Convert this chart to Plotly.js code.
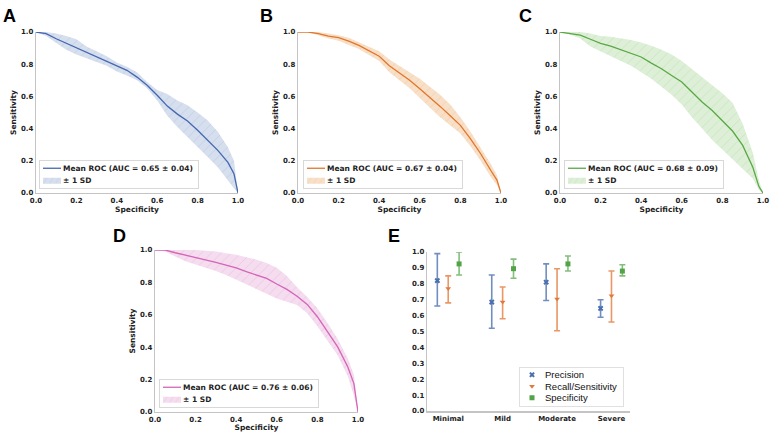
<!DOCTYPE html>
<html>
<head>
<meta charset="utf-8">
<script src="https://cdn.plot.ly/plotly-3.0.1.min.js"></script>
<style>html,body{margin:0;padding:0;background:#fff;}#chart{width:771px;height:432px;}</style>
</head>
<body>
<div id="chart"></div>
<script>
// ---------- DATA ----------
const specificity = [0,0.05,0.1,0.15,0.2,0.25,0.3,0.35,0.4,0.45,0.5,0.55,0.6,0.65,0.7,0.75,0.8,0.85,0.9,0.95,0.98,1.0];

const meanA  = [1.0,0.99,0.958,0.93,0.90,0.876,0.849,0.82,0.79,0.762,0.72,0.669,0.607,0.54,0.49,0.447,0.39,0.327,0.265,0.19,0.12,0.0];
const upperA = [1.0,1.0,0.99,0.975,0.955,0.91,0.88,0.85,0.81,0.785,0.75,0.69,0.64,0.615,0.575,0.545,0.50,0.45,0.38,0.285,0.2,0.03];
const lowerA = [1.0,0.975,0.93,0.89,0.86,0.84,0.815,0.79,0.755,0.73,0.70,0.65,0.575,0.48,0.41,0.35,0.285,0.224,0.16,0.08,0.03,0.0];

const meanB  = [1.0,1.0,0.99,0.975,0.965,0.944,0.917,0.886,0.85,0.79,0.745,0.70,0.648,0.596,0.538,0.48,0.42,0.337,0.244,0.14,0.08,0.0];
const upperB = [1.0,1.0,1.0,0.99,0.98,0.965,0.935,0.91,0.88,0.83,0.79,0.75,0.71,0.66,0.61,0.55,0.47,0.38,0.28,0.18,0.11,0.0];
const lowerB = [1.0,1.0,0.98,0.96,0.945,0.92,0.895,0.86,0.82,0.75,0.70,0.65,0.59,0.53,0.47,0.42,0.37,0.29,0.20,0.10,0.05,0.0];

const meanC  = [1.0,0.99,0.98,0.955,0.93,0.913,0.89,0.87,0.845,0.807,0.772,0.73,0.69,0.627,0.565,0.513,0.45,0.385,0.296,0.16,0.04,0.0];
const upperC = [1.0,1.0,1.0,0.99,0.975,0.97,0.96,0.95,0.935,0.915,0.89,0.86,0.82,0.77,0.72,0.67,0.62,0.56,0.43,0.25,0.08,0.0];
const lowerC = [1.0,0.985,0.96,0.91,0.88,0.85,0.82,0.79,0.75,0.71,0.66,0.61,0.55,0.47,0.40,0.33,0.27,0.21,0.15,0.09,0.02,0.0];

const meanD  = [1.0,1.0,0.983,0.969,0.955,0.942,0.924,0.907,0.89,0.866,0.845,0.825,0.79,0.757,0.715,0.664,0.588,0.495,0.402,0.278,0.175,0.0];
const upperD = [1.0,1.0,1.0,1.0,1.0,0.995,0.99,0.98,0.97,0.955,0.94,0.92,0.89,0.84,0.77,0.71,0.64,0.55,0.45,0.33,0.23,0.0];
const lowerD = [1.0,0.99,0.96,0.93,0.91,0.89,0.87,0.845,0.82,0.79,0.76,0.73,0.70,0.68,0.66,0.61,0.53,0.44,0.35,0.22,0.10,0.0];

const rocLabels = ['Mean ROC (AUC = 0.65 ± 0.04)','Mean ROC (AUC = 0.67 ± 0.04)','Mean ROC (AUC = 0.68 ± 0.09)','Mean ROC (AUC = 0.76 ± 0.06)'];

const categories = ['Minimal','Mild','Moderate','Severe'];
const precision   = [0.82,0.685,0.81,0.645];
const precisionLo = [0.66,0.52,0.695,0.59];
const precisionHi = [0.99,0.855,0.925,0.70];
const recall      = [0.77,0.685,0.705,0.725];
const recallLo    = [0.68,0.58,0.505,0.56];
const recallHi    = [0.85,0.78,0.895,0.88];
const specE       = [0.925,0.895,0.925,0.88];
const specELo     = [0.855,0.835,0.88,0.85];
const specEHi     = [1.0,0.955,0.975,0.92];

// ---------- STYLE ----------
const tickFont = {family:'DejaVu Sans', size:7, weight:'bold', color:'#222'};
const titleFont = {family:'DejaVu Sans', size:7.5, weight:'bold', color:'#222'};
const legFont = {family:'DejaVu Sans', size:7.5, weight:'bold', color:'#222'};
const lineCol = '#c4c4c4';

const panels = [
  {mean:meanA, up:upperA, lo:lowerA, line:'#4467b0', band:'#d6dfee', hatch:'#c2cee5', xd:[0.0467,0.3087], yd:[0.5532,0.9259], leg:[39/771,1-189/432]},
  {mean:meanB, up:upperB, lo:lowerB, line:'#e2762b', band:'#f8e0c8', hatch:'#f0cfad', xd:[0.3865,0.6498], yd:[0.5532,0.9259], leg:[303/771,1-189/432]},
  {mean:meanC, up:upperC, lo:lowerC, line:'#5aa845', band:'#ddefd7', hatch:'#c8e4be', xd:[0.7263,0.9896], yd:[0.5532,0.9259], leg:[564/771,1-189/432]},
  {mean:meanD, up:upperD, lo:lowerD, line:'#d465b8', band:'#f5dcef', hatch:'#eac8e2', xd:[0.2010,0.4643], yd:[0.0463,0.4213], leg:[159/771,1-408/432]}
];

const traces = [];
const layout = {
  width:771, height:432, margin:{l:0,r:0,t:0,b:0},
  paper_bgcolor:'#fff', plot_bgcolor:'#fff', showlegend:true,
  annotations:[], font:{family:'DejaVu Sans'}
};

panels.forEach((p,i)=>{
  const n = i+1;
  const xa = n===1?'x':'x'+n, ya = n===1?'y':'y'+n;
  const legName = n===1?'legend':'legend'+n;
  const bx = specificity.concat(specificity.slice().reverse());
  const by = p.up.concat(p.lo.slice().reverse());
  traces.push({type:'scatter', mode:'lines', x:bx, y:by, xaxis:xa, yaxis:ya, fill:'toself',
    fillcolor:p.band, fillpattern:{shape:'/', bgcolor:p.band, fgcolor:p.hatch, size:7, solidity:0.12},
    line:{width:0, color:p.band}, name:'± 1 SD', legend:legName, legendrank:2, hoverinfo:'skip'});
  traces.push({type:'scatter', mode:'lines', x:specificity, y:p.mean, xaxis:xa, yaxis:ya,
    line:{color:p.line, width:1.3}, name:rocLabels[i], legend:legName, legendrank:1});
  const axBase = {showgrid:false, zeroline:false, showline:true, linecolor:lineCol, linewidth:1.2,
    ticks:'', tickfont:tickFont, range:[0,1], tick0:0, dtick:0.2, tickformat:'.1f', automargin:false, fixedrange:true};
  layout[n===1?'xaxis':'xaxis'+n] = Object.assign({}, axBase, {domain:p.xd, anchor:ya,
    title:{text:'Specificity', font:titleFont, standoff:1}});
  layout[n===1?'yaxis':'yaxis'+n] = Object.assign({}, axBase, {domain:p.yd, anchor:xa,
    title:{text:'Sensitivity', font:titleFont, standoff:3}});
  layout[legName] = {x:p.leg[0], y:p.leg[1], xanchor:'left', yanchor:'bottom', xref:'paper', yref:'paper',
    bgcolor:'rgba(255,255,255,0.8)', bordercolor:'#d8d8d8', borderwidth:1, font:legFont,
    itemwidth:30, traceorder:'normal', tracegroupgap:0};
});

// Panel E
const errOf = (m, lo, hi) => ({type:'data', symmetric:false,
  array: hi.map((h,k)=>h-m[k]), arrayminus: lo.map((l,k)=>m[k]-l)});
const idx = categories.map((c,k)=>k);
const eSeries = [
  {name:'Precision', y:precision, lo:precisionLo, hi:precisionHi, off:-0.2, color:'#4a6fb0', sym:'x', size:5, ebar:'rgba(76,114,176,0.8)'},
  {name:'Recall/Sensitivity', y:recall, lo:recallLo, hi:recallHi, off:0, color:'#e07a3c', sym:'triangle-down', size:5, ebar:'rgba(226,125,62,0.8)'},
  {name:'Specificity', y:specE, lo:specELo, hi:specEHi, off:0.2, color:'#52a447', sym:'square', size:5, ebar:'rgba(90,168,80,0.75)'}
];
eSeries.forEach(s=>{
  const e = errOf(s.y, s.lo, s.hi);
  e.color = s.ebar; e.thickness = 1.6; e.width = 3;
  traces.push({type:'scatter', mode:'markers', x:idx.map(k=>k+s.off), y:s.y, xaxis:'x5', yaxis:'y5',
    marker:{symbol:s.sym, size:s.size, color:s.color, line:{width:0}},
    error_y:e, name:s.name, legend:'legend5'});
});
layout.xaxis5 = {domain:[0.5538,0.8171], anchor:'y5', range:[-0.39,3.34], tickvals:idx, ticktext:categories,
  showgrid:false, zeroline:false, showline:true, linecolor:lineCol, linewidth:1.6, ticks:'', tickfont:tickFont, automargin:false, fixedrange:true};
layout.yaxis5 = {domain:[0.0486,0.4167], anchor:'x5', range:[0,1.0], tick0:0, dtick:0.1, tickformat:'.1f',
  showgrid:false, zeroline:false, showline:true, linecolor:lineCol, linewidth:1.2, ticks:'', tickfont:tickFont, automargin:false, fixedrange:true};
layout.legend5 = {x:519/771, y:1-407/432, xanchor:'left', yanchor:'bottom', xref:'paper', yref:'paper',
  bgcolor:'rgba(255,255,255,0.8)', bordercolor:'#e0e0e0', borderwidth:1,
  font:{family:'Liberation Sans', size:9.5, color:'#111'}, itemwidth:30, traceorder:'normal'};

// panel letters
const letters = [['A',9,16],['B',266,16],['C',525,16],['D',119,236],['E',394,236]];
letters.forEach(([t,px,py])=>{
  layout.annotations.push({text:t, xref:'paper', yref:'paper', x:px/771, y:1-py/432, xanchor:'center', yanchor:'middle',
    showarrow:false, font:{family:'Liberation Sans', size:18, weight:'bold', color:'#000'}});
});

// compact legend spacing (matplotlib-like); idempotent so it can be re-applied
const re = /translate\(\s*([-\d.e]+)[ ,]+([-\d.e]+)\s*\)/;
function tweakLegend(gd, id, step, textShift, symTransform){
  const g = gd.querySelector('g.' + id); if(!g) return;
  const bg = g.querySelector('rect.bg'); if(!bg) return;
  const items = Array.from(g.querySelectorAll('g.traces'));
  const n = items.length;
  const newH = n*step + 5;
  items.forEach((it,k)=>{
    const m = re.exec(it.getAttribute('transform')||'');
    const x0 = m ? parseFloat(m[1]) : 0;
    it.setAttribute('transform', 'translate(' + x0 + ',' + (2.5 + step*(k+0.5)) + ')');
    it.querySelectorAll('text').forEach(t=>t.setAttribute('transform', 'translate(' + textShift + ',0)'));
    const layers = it.querySelector('g.layers');
    if(layers) layers.setAttribute('transform', symTransform);
  });
  const H = parseFloat(bg.getAttribute('height'));
  if(bg.getAttribute('data-tw') === String(newH) && H === newH) return;
  const W = parseFloat(bg.getAttribute('width'));
  bg.setAttribute('height', newH);
  bg.setAttribute('width', W + textShift);
  bg.setAttribute('data-tw', String(newH));
  const gm = re.exec(g.getAttribute('transform')||'');
  if(gm) g.setAttribute('transform', 'translate(' + gm[1] + ',' + (parseFloat(gm[2]) + (H - newH)) + ')');
}
function tweakAll(gd){
  ['legend','legend2','legend3','legend4'].forEach(id=>tweakLegend(gd, id, 11.5, -17, 'scale(0.6,1)'));
  tweakLegend(gd, 'legend5', 11.5, -15, 'translate(-8,0)');
}

Plotly.newPlot('chart', traces, layout, {displayModeBar:false, staticPlot:true}).then(gd=>{
  tweakAll(gd);
  setTimeout(()=>tweakAll(gd), 30);
  setTimeout(()=>tweakAll(gd), 300);
});
</script>
</body>
</html>
